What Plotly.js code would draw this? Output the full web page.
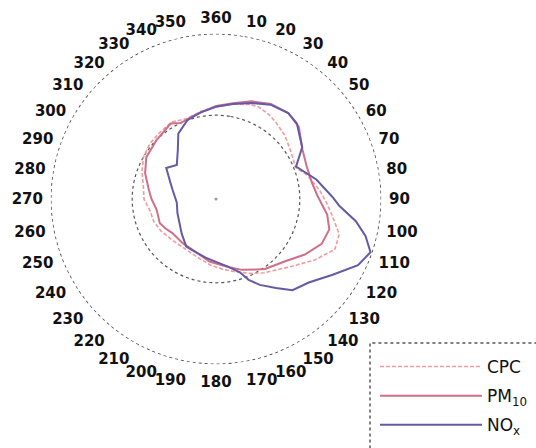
<!DOCTYPE html>
<html>
<head>
<meta charset="utf-8">
<script src="https://cdn.plot.ly/plotly-3.0.1.min.js"></script>
<style>html,body{margin:0;padding:0;background:#fff;}#chart{width:536px;height:448px;}</style>
</head>
<body>
<div id="chart"></div>
<script>
// Angular tick positions (degrees, clockwise from north) and their labels
const angleTicks = [0,10,20,30,40,50,60,70,80,90,100,110,120,130,140,150,160,170,180,190,200,210,220,230,240,250,260,270,280,290,300,310,320,330,340,350];
const angleLabels = ["360","10","20","30","40","50","60","70","80","90","100","110","120","130","140","150","160","170","180","190","200","210","220","230","240","250","260","270","280","290","300","310","320","330","340","350"];

// Series names
const seriesNames = ["CPC", "PM<sub>10</sub>", "NO<sub>x</sub>"];

// CPC (normalised)
const cpcTheta = [0,10,20,25,32,38,47,55,62,68,75,85,92,98,106,113,122,133,147,155,165,175,185,195,205,215,228,240,250,260,270,280,290,300,310,320,330,340,350];
const cpcR = [1.10,1.15,1.20,1.21,1.19,1.16,1.12,1.07,1.04,1.02,1.12,1.24,1.32,1.40,1.53,1.54,1.38,1.19,1.05,0.98,0.90,0.84,0.79,0.74,0.71,0.70,0.72,0.76,0.79,0.80,0.86,0.88,0.94,1.00,1.03,1.04,1.06,1.02,1.06];

// PM10
const pmTheta = [0,10,20,30,40,49,60,70,80,88,98,105,113,122,132,145,150,160,169,180,186,200,217,232,240,247,253,260,270,278,290,301,315,329,335,345,354];
const pmR = [1.11,1.16,1.24,1.31,1.34,1.31,1.19,1.15,1.16,1.21,1.34,1.40,1.37,1.25,1.11,1.02,0.97,0.90,0.83,0.77,0.75,0.68,0.66,0.66,0.70,0.73,0.72,0.72,0.77,0.81,0.90,0.97,1.00,1.05,1.00,1.03,1.07];

// NOx
const noxTheta = [0,10,20,30,40,47,59,68,79,89,93,99,104,109,115,123,132,140,146,153,158,162,170,180,190,200,212,225,237,250,265,282,290,302,311,322,330,340,350];
const noxR = [1.10,1.15,1.22,1.30,1.34,1.32,1.20,1.03,1.22,1.39,1.47,1.69,1.84,1.95,1.87,1.66,1.49,1.42,1.28,1.15,1.04,0.92,0.82,0.75,0.71,0.68,0.67,0.58,0.52,0.49,0.47,0.53,0.58,0.70,0.62,0.74,0.90,1.00,1.05];

// Reference rings (radius in normalised units)
const innerRing = 1;
const outerRing = 1.97;

function closeLoop(a){ return a.concat([a[0]]); }

const ringTheta = closeLoop(angleTicks);
const ringLine = {color:'#555', width:1.2, dash:'dot', shape:'spline'};

const traces = [
  {type:'scatterpolar', mode:'lines', theta:ringTheta, r:ringTheta.map(()=>innerRing), line:ringLine, showlegend:false, hoverinfo:'skip'},
  {type:'scatterpolar', mode:'lines', theta:ringTheta, r:ringTheta.map(()=>outerRing), line:ringLine, showlegend:false, hoverinfo:'skip', cliponaxis:false},
  {type:'scatterpolar', mode:'markers', theta:[0], r:[0], marker:{color:'#999', size:3}, showlegend:false, hoverinfo:'skip'},
  {type:'scatterpolar', mode:'lines', name:seriesNames[0], legendgroup:'a', theta:closeLoop(cpcTheta), r:closeLoop(cpcR), line:{color:'#f39a9c', width:1.6, dash:'4px,2px'}},
  {type:'scatterpolar', mode:'lines', name:seriesNames[1], legendgroup:'b', theta:closeLoop(pmTheta), r:closeLoop(pmR), line:{color:'#cf6f88', width:2}},
  {type:'scatterpolar', mode:'lines', name:seriesNames[2], legendgroup:'c', theta:closeLoop(noxTheta), r:closeLoop(noxR), line:{color:'#645aa6', width:2}}
];

const layout = {
  width:536, height:448,
  margin:{l:0, r:0, t:0, b:0},
  paper_bgcolor:'#fff',
  font:{family:'DejaVu Sans', color:'#111'},
  polar:{
    domain:{x:[50.5/536, 381.5/536], y:[1-364.5/448, 1-33.5/448]},
    bgcolor:'rgba(0,0,0,0)',
    angularaxis:{
      rotation:90, direction:'clockwise',
      tickmode:'array', tickvals:angleTicks, ticktext:angleLabels,
      showline:false, showgrid:false, ticks:'outside', ticklen:4, tickcolor:'rgba(0,0,0,0)',
      tickfont:{family:'DejaVu Sans', size:15, color:'#111', weight:'bold'}
    },
    radialaxis:{visible:false, range:[0, 1.975]}
  },
  showlegend:true,
  legend:{
    x:375/536, y:1-349/448, xanchor:'left', yanchor:'top',
    traceorder:'grouped', tracegroupgap:4,
    itemwidth:102,
    bgcolor:'rgba(0,0,0,0)', borderwidth:0,
    font:{family:'DejaVu Sans', size:17, color:'#111'}
  },
  shapes:[{type:'rect', xref:'paper', yref:'paper', x0:370/536, x1:1.02, y0:-0.02, y1:1-343/448, line:{color:'#555', width:1.5, dash:'dot'}}]
};

Plotly.newPlot('chart', traces, layout, {displayModeBar:false, staticPlot:true});
</script>
</body>
</html>
